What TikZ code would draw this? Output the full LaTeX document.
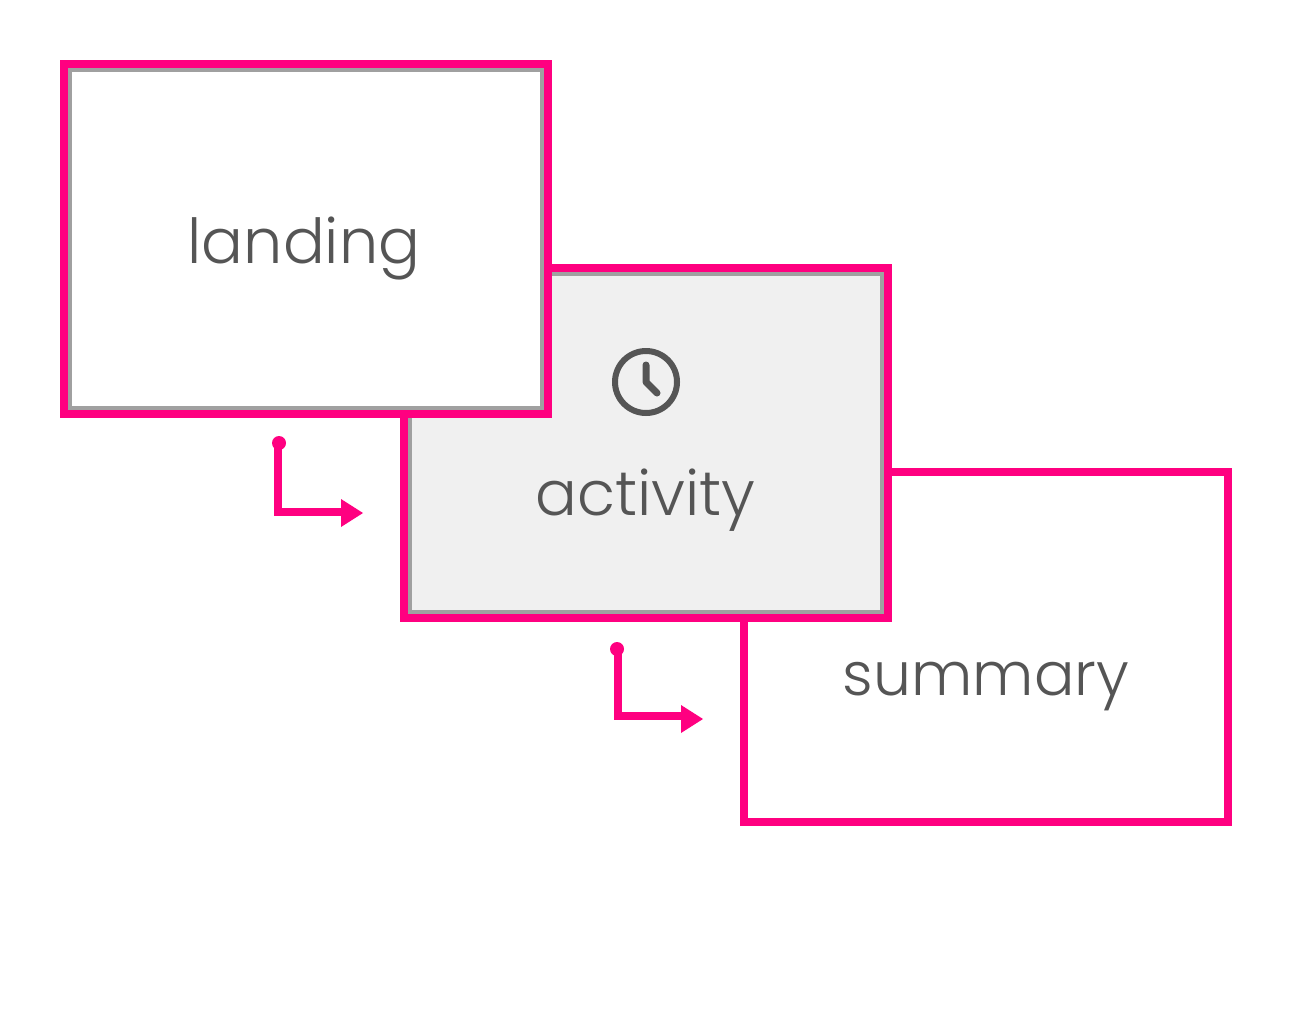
\documentclass[tikz,border=0pt]{standalone}
\usepackage{fontspec}
\setmainfont[UprightFont=* Light,Ligatures=NoCommon]{Poppins}
\usetikzlibrary{arrows.meta}
\definecolor{hotpink}{HTML}{FF0080}
\definecolor{edgegray}{HTML}{A0A0A0}
\definecolor{inkgray}{HTML}{555555}
\definecolor{panel}{HTML}{F0F0F0}
\tikzset{
  screen/.style={draw=hotpink,line width=8pt,fill=white,rectangle,outer sep=0pt,inner sep=0pt,minimum width=484pt,minimum height=350pt},
  rimmed/.style={screen,path picture={\draw[edgegray,line width=16pt] (path picture bounding box.south west) rectangle (path picture bounding box.north east);}},
  caption/.style={text=inkgray,anchor=base,inner sep=0pt,font=\fontsize{62}{62}\selectfont},
  flow/.style={draw=hotpink,line width=8pt},
  dot/.style={circle,fill=hotpink,inner sep=0pt,minimum size=14pt},
  tip/.style={fill=hotpink,draw=none},
  clockpart/.style={draw=inkgray,line cap=round,line join=round}
}
\begin{document}
\begin{tikzpicture}[x=1pt,y=-1pt]
\useasboundingbox (0,0) rectangle (1292,1028);
\fill[white] (0,0) rectangle (1292,1028);
\node[screen] (summary) at (986,647) {};
\node[rimmed,fill=panel] (activity) at (646,443) {};
\node[rimmed] (landing) at (306,239) {};
\node[caption] (tlanding) at (304,263) {landing};
\node[caption] (tactivity) at (645.5,515) {activity};
\node[caption,font=\fontsize{60}{60}\selectfont] (tsummary) at (986,695) {summary};
% clock
\coordinate (clockc) at (646,382);
\node[circle,draw=inkgray,line width=6pt,inner sep=0pt,minimum size=62pt,outer sep=0pt] (clock) at (clockc) {};
\coordinate (handtop) at (646,365);
\coordinate (handend) at (657,393);
\draw[clockpart,line width=7pt] (handtop) -- (clockc) -- (handend);
% connector 1
\node[dot] (d1) at (279,443) {};
\coordinate (c1) at (278,512);
\coordinate (e1) at (341,512);
\draw[flow] (d1.center -| c1) -- (c1) -- (e1);
\fill[tip] (341,499) -- (363,513) -- (341,527) -- cycle;
% connector 2
\node[dot] (d2) at (617,649) {};
\coordinate (c2) at (618,716);
\coordinate (e2) at (681,716);
\draw[flow] (d2.center -| c2) -- (c2) -- (e2);
\fill[tip] (681,705) -- (703,719) -- (681,733) -- cycle;
\end{tikzpicture}
\end{document}
